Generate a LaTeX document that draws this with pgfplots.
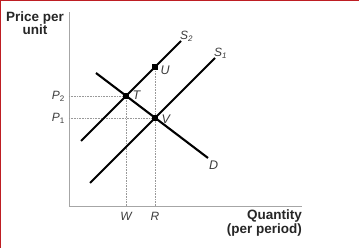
\documentclass[border=0pt]{standalone}
\usepackage{pgfplots}
\pgfplotsset{compat=1.18}
\usepackage{fontspec}
\setmainfont{Liberation Sans}
\definecolor{brd}{RGB}{190,30,35}
\definecolor{lab}{RGB}{60,60,60}
\begin{document}
\begin{tikzpicture}[x=1pt,y=1pt]
\useasboundingbox (-69,-42) rectangle (290,206);
\fill[brd] (-69,204.6) rectangle (290,206);
\fill[brd] (-69,-42) rectangle (-67.6,206);
\begin{axis}[
  at={(0,0)}, anchor=south west,
  scale only axis, width=233pt, height=194pt,
  xmin=0, xmax=233, ymin=0, ymax=194,
  axis lines=left,
  axis line style={-, gray!70, line width=0.8pt},
  clip=false,
  xtick={57,86}, xticklabels={\itshape W,\itshape R},
  ytick={88,110}, yticklabels={{\itshape P}\textsubscript{1},{\itshape P}\textsubscript{2}},
  tick style={draw=none},
  xticklabel style={font=\fontsize{12}{13}\selectfont, text=lab, yshift=-1pt},
  yticklabel style={font=\fontsize{12}{13}\selectfont, text=lab, xshift=1.5pt},
]
% dotted guides
\addplot[gray!80, densely dotted, line width=0.6pt] coordinates {(0,110) (57,110)};
\addplot[gray!80, densely dotted, line width=0.6pt] coordinates {(0,88) (86,88)};
\addplot[gray!80, densely dotted, line width=0.6pt] coordinates {(57,0) (57,110)};
\addplot[gray!80, densely dotted, line width=0.6pt] coordinates {(86,0) (86,139)};
% curves
\addplot[black, line width=2.1pt] coordinates {(12,65) (112,165)};
\addplot[black, line width=2.1pt] coordinates {(21,23) (146,148)};
\addplot[black, line width=2.1pt] coordinates {(27,133) (139,48)};
% points
\addplot[only marks, mark=square*, mark size=2.5pt, black] coordinates {(57,110) (86,88) (86,139)};
% labels
\node[anchor=west, text=lab, font=\itshape\fontsize{12.5}{13}\selectfont] at (axis cs:60,111) {T};
\node[anchor=west, text=lab, font=\itshape\fontsize{12.5}{13}\selectfont] at (axis cs:88,136) {U};
\node[anchor=west, text=lab, font=\itshape\fontsize{12.5}{13}\selectfont] at (axis cs:89,87) {V};
\node[anchor=north west, text=lab, font=\itshape\fontsize{12.5}{13}\selectfont, inner sep=1pt] at (axis cs:139,46) {D};
\node[anchor=south west, text=lab, font=\itshape\fontsize{12}{13}\selectfont, inner sep=1pt] at (axis cs:144,146) {S\textsubscript{1}};
\node[anchor=south west, text=lab, font=\itshape\fontsize{12}{13}\selectfont, inner sep=1pt] at (axis cs:110,163) {S\textsubscript{2}};
% axis titles
\node[anchor=base, font=\bfseries\fontsize{13.5}{15}\selectfont, text=black!85] at (axis cs:-34,184.5) {Price per};
\node[anchor=base, font=\bfseries\fontsize{13.5}{15}\selectfont, text=black!85] at (axis cs:-34,171) {unit};
\node[anchor=base east, font=\bfseries\fontsize{13.5}{15}\selectfont, text=black!85, inner sep=0pt] at (axis cs:233,-14) {Quantity};
\node[anchor=base east, font=\bfseries\fontsize{13.5}{15}\selectfont, text=black!85, inner sep=0pt] at (axis cs:233,-28) {(per period)};
\end{axis}
\end{tikzpicture}
\end{document}
